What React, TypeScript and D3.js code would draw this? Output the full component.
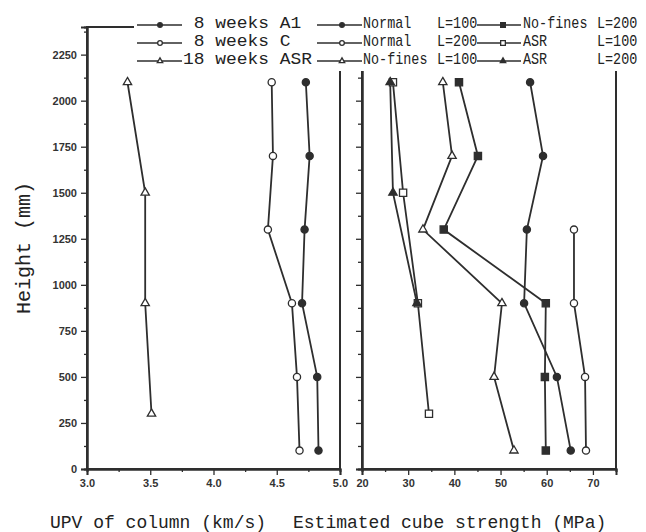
import React, { useEffect, useRef } from 'react';
import * as d3 from 'd3';

// Heights (mm) where readings were taken
const heightsSix = [2100, 1700, 1300, 900, 500, 100];
const heightsFour = [2100, 1500, 900, 300];
const heightsLowFour = [1300, 900, 500, 100];
const heightsThree = [2100, 1500, 900];

// Left panel: UPV of column (km/s)
const upvA1 = [4.73, 4.76, 4.72, 4.70, 4.82, 4.83];
const upvC = [4.46, 4.47, 4.43, 4.62, 4.66, 4.68];
const upvASR18 = [3.32, 3.46, 3.46, 3.51];

// Right panel: estimated cube strength (MPa)
const normal100 = [56.4, 59.2, 55.7, 55.1, 62.2, 65.2];
const normal200 = [65.9, 65.9, 68.3, 68.5];
const noFines100 = [37.5, 39.5, 33.2, 50.3, 48.6, 52.9];
const noFines200 = [41.0, 45.1, 37.7, 59.8, 59.6, 59.8];
const asr100 = [26.7, 28.9, 32.1, 34.5];
const asr200 = [26.1, 26.7, 31.9];

// Tick values
const yTicks = d3.range(0, 2251, 250);
const yMinor = d3.range(125, 2400, 250);
const upvTicks = [3.0, 3.5, 4.0, 4.5, 5.0];
const upvMinor = [3.25, 3.75, 4.25, 4.75];
const strengthTicks = [20, 30, 40, 50, 60, 70];
const strengthMinor = [25, 35, 45, 55, 65, 75];

const INK = '#2e2e2e';
const MONO = '"Liberation Mono", "Courier New", monospace';

const App = () => {
  const svgRef = useRef(null);

  useEffect(() => {
    const svg = d3.select(svgRef.current);
    svg.selectAll('*').remove();

    const y = d3.scaleLinear().domain([0, 2400]).range([469, 27]);
    const xL = d3.scaleLinear().domain([3, 5]).range([87, 340]);
    const xR = d3.scaleLinear().domain([20, 75]).range([362, 616]);

    svg.append('rect').attr('width', 646).attr('height', 532).attr('fill', '#fff');

    // Style helper for axes
    function styleAxis(g) {
      g.select('.domain').attr('stroke', INK).attr('stroke-width', 2);
      g.selectAll('.tick line').attr('stroke', INK).attr('stroke-width', 1.3);
      g.selectAll('.tick text')
        .attr('fill', '#333')
        .style('font-family', '"Liberation Sans", Arial, sans-serif')
        .style('font-weight', 'bold')
        .style('font-size', '11px');
    }

    // Frames (right/top borders)
    const frame = svg.append('g').attr('fill', 'none').attr('stroke', INK).attr('stroke-width', 2);
    frame.append('rect').attr('x', xL(3)).attr('y', y(2400)).attr('width', xL(5) - xL(3)).attr('height', y(0) - y(2400));
    frame.append('rect').attr('x', xR(20)).attr('y', y(2400)).attr('width', xR(75) - xR(20)).attr('height', y(0) - y(2400));

    // Left y axis
    svg.append('g').attr('transform', `translate(${xL(3)},0)`)
      .call(d3.axisLeft(y).tickValues(yTicks).tickSize(6).tickPadding(4).tickFormat(d3.format('d')))
      .call(styleAxis);
    svg.append('g').attr('transform', `translate(${xL(3)},0)`)
      .call(d3.axisLeft(y).tickValues(yMinor).tickSize(3).tickFormat(() => ''))
      .call(styleAxis);

    // Right panel y axis (no labels)
    svg.append('g').attr('transform', `translate(${xR(20)},0)`)
      .call(d3.axisLeft(y).tickValues(yTicks).tickSize(6).tickFormat(() => ''))
      .call(styleAxis);
    svg.append('g').attr('transform', `translate(${xR(20)},0)`)
      .call(d3.axisLeft(y).tickValues(yMinor).tickSize(4).tickFormat(() => ''))
      .call(styleAxis);

    // Bottom axes
    svg.append('g').attr('transform', `translate(0,${y(0)})`)
      .call(d3.axisBottom(xL).tickValues(upvTicks).tickSize(6).tickPadding(4).tickFormat(d3.format('.1f')))
      .call(styleAxis);
    svg.append('g').attr('transform', `translate(0,${y(0)})`)
      .call(d3.axisBottom(xL).tickValues(upvMinor).tickSize(3).tickFormat(() => ''))
      .call(styleAxis);
    svg.append('g').attr('transform', `translate(0,${y(0)})`)
      .call(d3.axisBottom(xR).tickValues(strengthTicks).tickSize(6).tickPadding(4).tickFormat(d3.format('d')))
      .call(styleAxis);
    svg.append('g').attr('transform', `translate(0,${y(0)})`)
      .call(d3.axisBottom(xR).tickValues(strengthMinor).tickSize(3).tickFormat(() => ''))
      .call(styleAxis);

    // Markers
    function marker(g, kind, cx, cy, small) {
      const k = small ? 0.65 : 1;
      const filled = kind.startsWith('filled');
      const fill = filled ? INK : '#fff';
      if (kind.endsWith('circle')) {
        g.append('circle').attr('cx', cx).attr('cy', cy).attr('r', 3.6 * k)
          .attr('fill', fill).attr('stroke', INK).attr('stroke-width', 1.3);
      } else {
        const type = kind.endsWith('square') ? d3.symbolSquare : d3.symbolTriangle;
        const size = kind.endsWith('square') ? 52 : 30;
        g.append('path')
          .attr('d', d3.symbol().type(type).size(size * k * k)())
          .attr('transform', `translate(${cx},${cy})`)
          .attr('fill', fill).attr('stroke', INK).attr('stroke-width', 1.3);
      }
    }

    const line = d3.line();
    const series = [
      { x: xL, vals: upvA1, hs: heightsSix, kind: 'filled-circle' },
      { x: xL, vals: upvC, hs: heightsSix, kind: 'open-circle' },
      { x: xL, vals: upvASR18, hs: heightsFour, kind: 'open-triangle' },
      { x: xR, vals: normal100, hs: heightsSix, kind: 'filled-circle' },
      { x: xR, vals: normal200, hs: heightsLowFour, kind: 'open-circle' },
      { x: xR, vals: noFines100, hs: heightsSix, kind: 'open-triangle' },
      { x: xR, vals: noFines200, hs: heightsSix, kind: 'filled-square' },
      { x: xR, vals: asr100, hs: heightsFour, kind: 'open-square' },
      { x: xR, vals: asr200, hs: heightsThree, kind: 'filled-triangle' },
    ];

    const plot = svg.append('g');
    series.forEach(s => {
      const pts = s.vals.map((v, i) => [s.x(v), y(s.hs[i])]);
      plot.append('path').attr('d', line(pts)).attr('fill', 'none')
        .attr('stroke', INK).attr('stroke-width', 1.8);
    });
    series.forEach(s => {
      s.vals.forEach((v, i) => marker(plot, s.kind, s.x(v), y(s.hs[i]), false));
    });

    // Legend (white box over the top of the frames)
    svg.append('rect').attr('x', 134).attr('y', 0).attr('width', 508).attr('height', 71).attr('fill', '#fff');
    const legend = svg.append('g');
    const rowsY = [25, 43, 61];

    // text squeezed / stretched sideways so it matches the scan's widths
    function legendText(txt, tx, ty, sx) {
      legend.append('text')
        .attr('transform', `translate(${tx},${ty}) scale(${sx},1)`)
        .style('white-space', 'pre')
        .style('font-family', MONO)
        .style('font-size', '16px').attr('fill', '#222')
        .text(txt);
    }

    const leftItems = [
      { label: ' 8 weeks A1', kind: 'filled-circle' },
      { label: ' 8 weeks C', kind: 'open-circle' },
      { label: '18 weeks ASR', kind: 'open-triangle' },
    ];
    leftItems.forEach((d, i) => {
      legend.append('line').attr('x1', 137).attr('x2', 182).attr('y1', rowsY[i]).attr('y2', rowsY[i])
        .attr('stroke', INK).attr('stroke-width', 1.5);
      marker(legend, d.kind, 160, rowsY[i], true);
      legendText(d.label, 183, rowsY[i] + 3, 1.12);
    });

    const rightItems = [
      { name: 'Normal', len: 'L=100', kind: 'filled-circle', col: 0 },
      { name: 'Normal', len: 'L=200', kind: 'open-circle', col: 0 },
      { name: 'No-fines', len: 'L=100', kind: 'open-triangle', col: 0 },
      { name: 'No-fines', len: 'L=200', kind: 'filled-square', col: 1 },
      { name: 'ASR', len: 'L=100', kind: 'open-square', col: 1 },
      { name: 'ASR', len: 'L=200', kind: 'filled-triangle', col: 1 },
    ];
    const colX = [{ l1: 317, l2: 362, m: 342, t: 363 }, { l1: 477, l2: 521, m: 503, t: 523 }];
    rightItems.forEach((d, i) => {
      const c = colX[d.col];
      const ry = rowsY[i % 3];
      legend.append('line').attr('x1', c.l1).attr('x2', c.l2).attr('y1', ry).attr('y2', ry)
        .attr('stroke', INK).attr('stroke-width', 1.5);
      marker(legend, d.kind, c.m, ry, true);
      legendText(d.name, c.t, ry + 3, 0.84);
      legendText(d.len, c.t + 74, ry + 3, 0.84);
    });

    // Axis titles
    svg.append('text').attr('x', 50).attr('y', 528)
      .style('font-family', MONO).style('font-size', '18px').attr('fill', '#222')
      .text('UPV of column (km/s)');
    svg.append('text').attr('x', 293).attr('y', 528)
      .style('font-family', MONO).style('font-size', '18px').attr('fill', '#222')
      .text('Estimated cube strength (MPa)');
    svg.append('text').attr('transform', 'translate(30,248) rotate(-90)')
      .attr('text-anchor', 'middle')
      .style('font-family', MONO).style('font-size', '20px').attr('fill', '#222')
      .text('Height (mm)');
  }, []);

  return (
    <svg ref={svgRef} width={646} height={532}
      style={{ position: 'absolute', left: 0, top: 0, display: 'block' }} />
  );
};

export default App;
